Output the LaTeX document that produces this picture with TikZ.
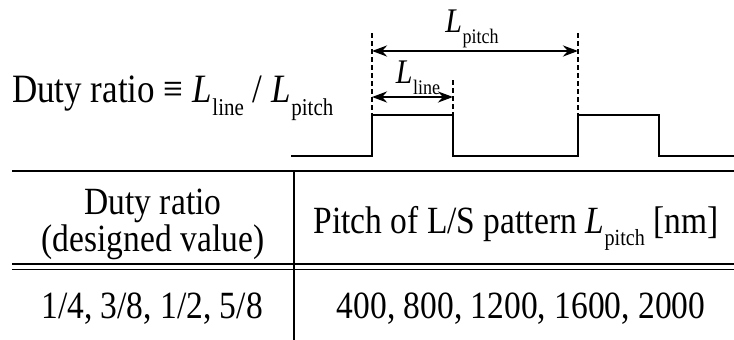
\documentclass[tikz,border=0pt]{standalone}
\usepackage{fontspec}
\setmainfont{Liberation Serif}
\usetikzlibrary{arrows.meta}
\newcommand{\Lsb}[2][0.6]{\textit{L}\kern0.02em\raisebox{-0.33em}{\scalebox{#1}{#2}}}
\newcommand{\tall}[1]{\scalebox{1}[1.15]{#1}}
\begin{document}
\begin{tikzpicture}[x=1pt,y=-1pt,
  wave/.style={line width=2.6pt,line join=miter},
  dim/.style={line width=2.5pt,{Stealth[length=15pt,width=11pt]}-{Stealth[length=15pt,width=11pt]}},
  guide/.style={line width=1.4pt,dash pattern=on 5pt off 3pt},
  rule/.style={line width=2.4pt},
  thinrule/.style={line width=1.4pt},
  bigtxt/.style={font=\fontsize{35}{42}\selectfont,inner sep=0pt},
  tabtxt/.style={font=\fontsize{33.5}{37}\selectfont,inner sep=0pt,align=center},
  lbl/.style={font=\fontsize{30}{36}\selectfont,inner sep=0pt}]
\useasboundingbox (0,0) rectangle (734,340);
% waveform
\coordinate (w0) at (291,156);
\coordinate (r1b) at (372,156);
\coordinate (r1t) at (372,115);
\coordinate (f1t) at (453,115);
\coordinate (f1b) at (453,156);
\coordinate (r2b) at (578,156);
\coordinate (r2t) at (578,115);
\coordinate (f2t) at (659,115);
\coordinate (f2b) at (659,156);
\coordinate (w9) at (734,156);
\draw[wave] (w0) -- (r1b) -- (r1t) -- (f1t) -- (f1b) -- (r2b) -- (r2t) -- (f2t) -- (f2b) -- (w9);
% guides
\coordinate (g1) at (372,33);
\coordinate (g2) at (453,80);
\coordinate (g3) at (578,33);
\draw[guide] (g1) -- (r1t);
\draw[guide] (g2) -- (f1t);
\draw[guide] (g3) -- (r2t);
% dimension arrows
\coordinate (pa) at (372,51);
\coordinate (pb) at (578,51);
\coordinate (la) at (372,97);
\coordinate (lb) at (453,97);
\draw[dim] (pa) -- (pb);
\draw[dim] (la) -- (lb);
\node[lbl,anchor=base] (lp) at (472,32) {\tall{\Lsb{pitch}}};
\node[lbl,anchor=base] (ll) at (418,83) {\tall{\Lsb{line}}};
% definition
\node[bigtxt,anchor=base west] (def) at (12,102) {\tall{Duty ratio ≡ \Lsb{line} / \Lsb{pitch}}};
% table
\coordinate (t0) at (12,171);
\coordinate (t1) at (734,171);
\coordinate (d0) at (12,264);
\coordinate (d1) at (734,264);
\coordinate (e0) at (12,269.5);
\coordinate (e1) at (734,269.5);
\coordinate (v0) at (294,171);
\coordinate (v1) at (294,340);
\draw[rule] (t0) -- (t1);
\draw[thinrule] (d0) -- (d1);
\draw[thinrule] (e0) -- (e1);
\draw[thinrule] (v0) -- (v1);
\node[tabtxt,anchor=base] (h1a) at (153,214) {\tall{Duty ratio}};
\node[tabtxt,anchor=base] (h1b) at (153,251) {\tall{(designed value)}};
\node[tabtxt,anchor=base] (h2) at (516,233) {\tall{Pitch of L/S pattern \Lsb{pitch} [nm]}};
\node[tabtxt,anchor=base] (c1) at (152,318) {\tall{1/4, 3/8, 1/2, 5/8}};
\node[tabtxt,anchor=base] (c2) at (521,318) {\tall{400, 800, 1200, 1600, 2000}};
\end{tikzpicture}
\end{document}
